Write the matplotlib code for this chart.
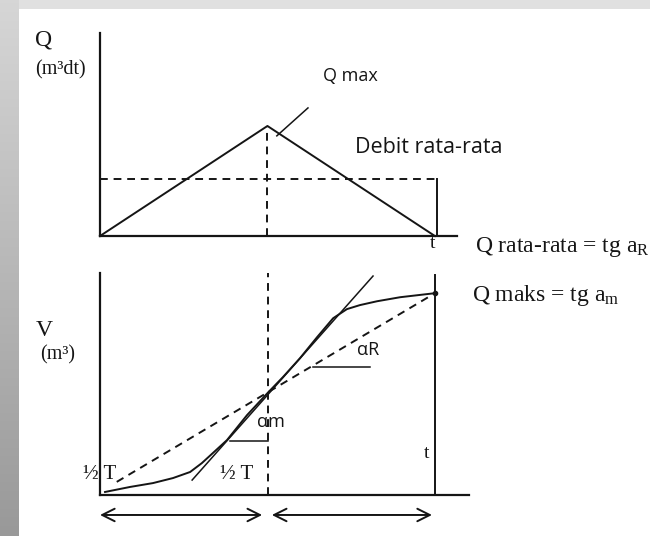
import matplotlib
matplotlib.use("Agg")
import matplotlib.pyplot as plt
import numpy as np
from matplotlib.patches import Rectangle

# hydrograph (top): time as fraction of T, discharge as fraction of Q max
t_hydro = [0.0, 0.5, 1.0]
q_hydro = [0.0, 1.0, 0.0]
q_mean = 0.518
t_qmax_tangent = [0.528, 0.621]
q_qmax_tangent = [0.91, 1.164]

# mass curve (bottom): cumulative volume as fraction of total
t_curve = [0.015, 0.09, 0.158, 0.218, 0.269, 0.304, 0.337, 0.379, 0.439, 0.50,
           0.546, 0.597, 0.648, 0.696, 0.737, 0.776, 0.827, 0.896, 1.0]
v_curve = [0.015, 0.04, 0.059, 0.084, 0.114, 0.158, 0.208, 0.272, 0.396, 0.505,
           0.584, 0.678, 0.782, 0.876, 0.921, 0.941, 0.96, 0.98, 1.0]
t_tangent = [0.275, 0.815]
v_tangent = [0.074, 1.085]
t_mean_line = [0.05, 1.0]
v_mean_line = [0.065, 1.0]
t_am_mark = [0.388, 0.5]
v_am_mark = 0.267
t_ar_mark = [0.636, 0.806]
v_ar_mark = 0.634

W, H = 650, 536
serif = "Liberation Serif"
sans = "Open Sans"
ink = "#151515"
lw = 1.4
dash = (0, (4, 3))

plt.rcParams["font.family"] = [serif, "DejaVu Serif"]
plt.rcParams["mathtext.fontset"] = "custom"
plt.rcParams["mathtext.rm"] = serif
plt.rcParams["mathtext.it"] = serif + ":italic"

fig = plt.figure(figsize=(6.5, 5.36), dpi=100)
fig.patch.set_facecolor("white")

# grey frame on the left and top edges
bg = fig.add_axes([0, 0, 19 / W, 1])
grad = np.linspace(0.84, 0.6, 200).reshape(-1, 1)
bg.imshow(np.dstack([grad, grad, grad]), aspect="auto", extent=[0, 1, 0, 1])
bg.axis("off")
fig.patches.append(Rectangle((0, 1 - 9 / H), 1, 9 / H, transform=fig.transFigure,
                             facecolor="#e0e0e0", edgecolor="none", zorder=-1))


def px_rect(left, right, top, bottom):
    return [left / W, 1 - bottom / H, (right - left) / W, (bottom - top) / H]


def style_axes(ax):
    ax.set_facecolor("none")
    for s in ["top", "right"]:
        ax.spines[s].set_visible(False)
    for s in ["left", "bottom"]:
        ax.spines[s].set_linewidth(1.6)
        ax.spines[s].set_color(ink)
    ax.set_xticks([])
    ax.set_yticks([])


# ---- top panel: triangular hydrograph ----
ax1 = fig.add_axes(px_rect(100, 457, 33, 236))
style_axes(ax1)
ax1.set_xlim(0, 1.066)
ax1.set_ylim(0, 1.845)
ax1.plot(t_hydro, q_hydro, color=ink, lw=lw, clip_on=False)
ax1.plot([0, 1.006], [q_mean, q_mean], color=ink, lw=lw, ls=dash)
ax1.plot([1.006, 1.006], [0, q_mean], color=ink, lw=lw)
ax1.plot([t_hydro[1], t_hydro[1]], [0, q_hydro[1]], color=ink, lw=lw, ls=dash)
ax1.plot(t_qmax_tangent, q_qmax_tangent, color=ink, lw=1.1)

ax1.text(-0.194, 1.78, "Q", fontsize=17, va="center", ha="left", color=ink)
ax1.text(-0.194, 1.51, "(m\u00b3dt)", fontsize=14.5, va="center", ha="left",
         color=ink)
ax1.text(0.666, 1.455, "Q max", family=sans, fontsize=13, va="center",
         ha="left", color=ink)
ax1.text(0.761, 0.80, "Debit rata-rata", family=sans, fontsize=15.5,
         va="center", ha="left", color=ink)
ax1.text(0.994, -0.07, "t", fontsize=14, va="center", ha="center", color=ink)
ax1.text(1.119, -0.10, r"Q rata-rata = tg a$_\mathrm{R}$", fontsize=17,
         va="center", ha="left", color=ink)

# ---- bottom panel: mass curve ----
ax2 = fig.add_axes(px_rect(100, 468.5, 273, 495))
style_axes(ax2)
ax2.set_xlim(0, 1.1)
ax2.set_ylim(0, 1.1)
ax2.plot(t_curve, v_curve, color=ink, lw=lw)
ax2.plot(t_tangent, v_tangent, color=ink, lw=1.1, clip_on=False)
ax2.plot(t_mean_line, v_mean_line, color=ink, lw=lw, ls=dash)
ax2.plot([0.5, 0.5], [0, 1.1], color=ink, lw=lw, ls=dash)
ax2.plot([1.0, 1.0], [0, 1.09], color=ink, lw=lw)
ax2.plot(t_am_mark, [v_am_mark, v_am_mark], color=ink, lw=1.1)
ax2.plot(t_ar_mark, [v_ar_mark, v_ar_mark], color=ink, lw=1.1)
ax2.plot([t_curve[-1]], [v_curve[-1]], "o", color=ink, ms=3, clip_on=False)

ax2.text(-0.191, 0.817, "V", fontsize=17, va="center", ha="left", color=ink)
ax2.text(-0.179, 0.693, "(m\u00b3)", fontsize=14.5, va="center", ha="left",
         color=ink)
ax2.text(1.11, 0.99, r"Q maks = tg a$_\mathrm{m}$", fontsize=17, va="center",
         ha="left", color=ink)
ax2.text(0.469, 0.361, "\u03b1m", family=sans, fontsize=13, va="center",
         ha="left", color=ink)
ax2.text(0.767, 0.718, "\u03b1R", family=sans, fontsize=13, va="center",
         ha="left", color=ink)
ax2.text(-0.05, 0.104, "\u00bd T", fontsize=15, va="center", ha="left",
         color=ink)
ax2.text(0.358, 0.104, "\u00bd T", fontsize=15, va="center", ha="left",
         color=ink)
ax2.text(0.976, 0.208, "t", fontsize=14, va="center", ha="center", color=ink)

# half-period arrows under the time axis
for a, b in [(0.0, 0.484), (0.513, 0.991)]:
    ax2.annotate("", xy=(b, -0.099), xytext=(a, -0.099),
                 xycoords="data", annotation_clip=False,
                 arrowprops=dict(arrowstyle="<->,head_length=0.9,head_width=0.45",
                                 color=ink, lw=1.4, shrinkA=0, shrinkB=0))

fig.savefig("out.png", dpi=100)
